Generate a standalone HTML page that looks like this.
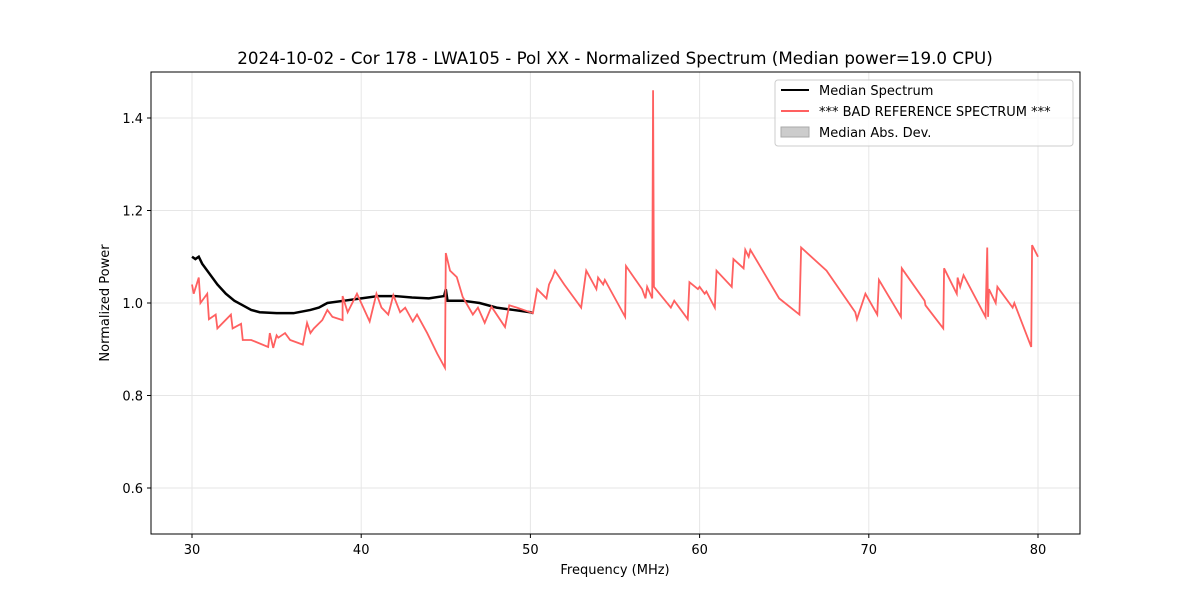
<!DOCTYPE html>
<html><head><meta charset="utf-8"><style>
body{margin:0;background:#fff;font-family:"Liberation Sans","DejaVu Sans",sans-serif;}
svg text{font-family:"DejaVu Sans","Liberation Sans",sans-serif;}
</style></head><body>
<svg id="chart" width="1200" height="600" xmlns="http://www.w3.org/2000/svg">
<rect width="1200" height="600" fill="#fff"/>
<text x="615" y="64" font-size="16.7" text-anchor="middle">2024-10-02 - Cor 178 - LWA105 - Pol XX - Normalized Spectrum (Median power=19.0 CPU)</text>
<g id="grid"></g>
<g id="ticks"></g>
<g id="series"></g>
<rect x="151" y="72" width="929" height="462" fill="none" stroke="#000" stroke-width="1"/>
<text x="615" y="574" font-size="13" text-anchor="middle">Frequency (MHz)</text>
<text transform="translate(109,303) rotate(-90)" font-size="13" text-anchor="middle">Normalized Power</text>
<g>
<rect x="775" y="80" width="298" height="66" rx="3" fill="#fff" fill-opacity="0.8" stroke="#ccc"/>
<line x1="781" y1="90" x2="809" y2="90" stroke="#000" stroke-width="2"/>
<text x="819" y="95" font-size="13">Median Spectrum</text>
<line x1="781" y1="111" x2="809" y2="111" stroke="#ff6060" stroke-width="2"/>
<text x="819" y="116" font-size="13">*** BAD REFERENCE SPECTRUM ***</text>
<rect x="781" y="127" width="28" height="10" fill="#cccccc" stroke="#aaa"/>
<text x="819" y="137" font-size="13">Median Abs. Dev.</text>
</g>
</svg>
<script>
const xTicks=[30,40,50,60,70,80];
const yTicks=[0.6,0.8,1.0,1.2,1.4];
const yTickLabels=["0.6","0.8","1.0","1.2","1.4"];
const redFreq=[30.0,30.1,30.4,30.5,30.9,31.0,31.4,31.5,32.3,32.4,32.9,33.0,33.5,34.5,34.6,34.8,35.0,35.1,35.5,35.8,36.55,36.8,37.0,37.2,37.7,38.0,38.3,38.9,38.9,39.2,39.75,40.0,40.5,40.9,41.2,41.6,41.9,42.3,42.6,43.05,43.3,43.9,44.5,44.95,45.0,45.25,45.65,46.0,46.6,46.9,47.3,47.7,48.5,48.75,49.2,49.6,50.15,50.4,50.95,51.1,51.3,51.45,52.0,52.8,53.0,53.3,53.9,54.0,54.3,54.4,55.6,55.65,56.6,56.8,56.9,57.2,57.25,57.3,58.3,58.5,59.3,59.4,59.9,60.0,60.3,60.4,60.9,61.0,61.9,62.0,62.6,62.7,62.9,63.0,64.7,65.9,66.0,67.5,69.2,69.3,69.8,70.5,70.6,71.9,71.95,73.3,73.35,74.4,74.45,75.2,75.25,75.4,75.6,76.9,77.0,77.05,77.1,77.5,77.6,78.5,78.6,79.6,79.65,80.0];
const redVal=[1.04,1.02,1.055,1.0,1.02,0.965,0.975,0.945,0.975,0.945,0.955,0.92,0.92,0.905,0.935,0.903,0.93,0.925,0.935,0.92,0.91,0.957,0.935,0.945,0.963,0.985,0.97,0.963,1.015,0.98,1.02,1.0,0.96,1.02,0.99,0.975,1.017,0.98,0.99,0.96,0.975,0.935,0.89,0.86,1.108,1.07,1.056,1.013,0.975,0.99,0.957,0.992,0.948,0.995,0.99,0.985,0.978,1.03,1.01,1.04,1.055,1.07,1.04,1.0,0.99,1.07,1.03,1.055,1.04,1.05,0.97,1.08,1.03,1.01,1.035,1.01,1.46,1.035,0.99,1.005,0.965,1.045,1.03,1.035,1.02,1.025,0.99,1.07,1.035,1.095,1.075,1.115,1.1,1.115,1.01,0.975,1.12,1.07,0.98,0.965,1.02,0.975,1.05,0.97,1.075,1.005,0.995,0.945,1.075,1.02,1.055,1.035,1.06,0.97,1.12,0.97,1.03,1.0,1.035,0.99,1.0,0.905,1.125,1.1];
const medFreq=[30.0,30.2,30.4,30.6,31.0,31.5,32.0,32.5,33.0,33.5,34.0,35.0,36.0,37.0,37.5,38.0,39.0,40.0,41.0,42.0,43.0,44.0,44.9,45.0,45.1,46.0,47.0,48.0,49.0,50.0,50.15];
const medVal=[1.10,1.095,1.10,1.085,1.065,1.04,1.02,1.005,0.995,0.985,0.98,0.978,0.978,0.985,0.99,1.0,1.005,1.01,1.015,1.015,1.012,1.01,1.015,1.03,1.005,1.005,1.0,0.99,0.985,0.98,0.978];
const X=f=>192+(f-30)*16.92;
const Y=v=>303-(v-1)*462.5;
const NS="http://www.w3.org/2000/svg";
const grid=document.getElementById('grid'),ticks=document.getElementById('ticks'),series=document.getElementById('series');
function mk(tag,attrs,parent){const e=document.createElementNS(NS,tag);for(const k in attrs)e.setAttribute(k,attrs[k]);parent.appendChild(e);return e;}
xTicks.forEach(t=>{
 const g=mk('line',{x1:X(t),x2:X(t),y1:72,y2:534,stroke:'#e6e6e6'},grid);
 
 
 mk('line',{x1:X(t),x2:X(t),y1:534,y2:538,stroke:'#000'},ticks);
 const tx=mk('text',{x:X(t),y:554,'font-size':13,'text-anchor':'middle'},ticks);
 tx.textContent=t;
 
 
});
yTicks.forEach((t,i)=>{
 const g=mk('line',{x1:151,x2:1080,y1:Y(t),y2:Y(t),stroke:'#e6e6e6'},grid);
 
 
 mk('line',{x1:147,x2:151,y1:Y(t),y2:Y(t),stroke:'#000'},ticks);
 const tx=mk('text',{x:143,y:Y(t)+5,'font-size':13,'text-anchor':'end'},ticks);
 tx.textContent=yTickLabels[i];
 
 
});
const med=mk('polyline',{points:medFreq.map((f,i)=>X(f)+','+Y(medVal[i])).join(' '),fill:'none',stroke:'#000','stroke-width':2.5},series);


const red=mk('polyline',{points:redFreq.map((f,i)=>X(f)+','+Y(redVal[i])).join(' '),fill:'none',stroke:'#ff6060','stroke-width':1.8},series);


</script>
</body></html>
